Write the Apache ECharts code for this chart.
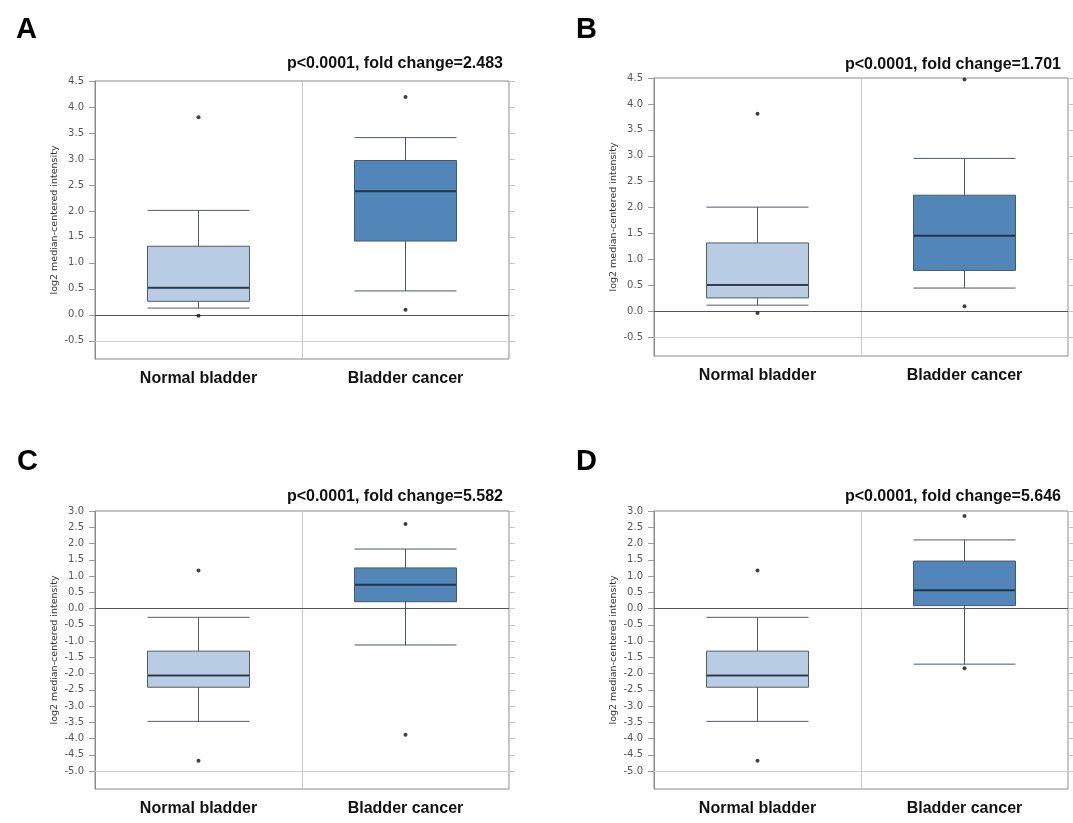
<!DOCTYPE html>
<html>
<head>
<meta charset="utf-8">
<script src="https://cdn.jsdelivr.net/npm/echarts@6/dist/echarts.min.js"></script>
<style>html,body{margin:0;padding:0;background:#fff;}#c{width:1073px;height:823px;}</style>
</head>
<body>
<div id="c"></div>
<script>
// ---- data ----
const categories = ['Normal bladder', 'Bladder cancer'];
const panelLetters = ['A', 'B', 'C', 'D'];
const panelStats = [
  'p<0.0001, fold change=2.483',
  'p<0.0001, fold change=1.701',
  'p<0.0001, fold change=5.582',
  'p<0.0001, fold change=5.646'
];
const yAxisName = 'log2 median-centered intensity';
const yTicksTop = [-0.5, 0, 0.5, 1.0, 1.5, 2.0, 2.5, 3.0, 3.5, 4.0, 4.5];
const yTicksBottom = [-5.0, -4.5, -4.0, -3.5, -3.0, -2.5, -2.0, -1.5, -1.0, -0.5, 0, 0.5, 1.0, 1.5, 2.0, 2.5, 3.0];

// box data: [lower whisker, Q1, median, Q3, upper whisker] for [Normal, Cancer]
const boxA = [[0.13, 0.26, 0.52, 1.32, 2.01], [0.46, 1.42, 2.38, 2.97, 3.41]];
const boxB = [[0.12, 0.26, 0.51, 1.32, 2.01], [0.45, 0.79, 1.46, 2.24, 2.95]];
const boxC = [[-3.47, -2.42, -2.06, -1.31, -0.27], [-1.12, 0.21, 0.73, 1.25, 1.83]];
const boxD = [[-3.47, -2.42, -2.06, -1.31, -0.27], [-1.71, 0.09, 0.56, 1.46, 2.11]];
// outliers: [category index, value]
const outA = [[0, 3.80], [0, -0.02], [1, 4.19], [1, 0.10]];
const outB = [[0, 3.81], [0, -0.03], [1, 4.47], [1, 0.10]];
const outC = [[0, 1.17], [0, -4.68], [1, 2.60], [1, -3.88]];
const outD = [[0, 1.17], [0, -4.68], [1, 2.85], [1, -1.84]];

// ---- layout ----
const panels = [
  {box: boxA, out: outA, ticks: yTicksTop, min: -0.85, max: 4.5, low: -0.5, grid: {left: 95, top: 81, width: 414, height: 278}, letter: {left: 11, top: 10}, stat: {right: 565, top: 51}},
  {box: boxB, out: outB, ticks: yTicksTop, min: -0.86, max: 4.5, low: -0.5, grid: {left: 654, top: 78, width: 414, height: 278}, letter: {left: 571, top: 10}, stat: {right: 7, top: 52}},
  {box: boxC, out: outC, ticks: yTicksBottom, min: -5.55, max: 3.0, low: -5.0, grid: {left: 95, top: 511, width: 414, height: 278}, letter: {left: 12, top: 442}, stat: {right: 565, top: 484}},
  {box: boxD, out: outD, ticks: yTicksBottom, min: -5.55, max: 3.0, low: -5.0, grid: {left: 654, top: 511, width: 414, height: 278}, letter: {left: 571, top: 442}, stat: {right: 7, top: 484}}
];

const boxFill = ['#b8cce4', '#5286b9'];
const boxBorder = ['#555b63', '#4a5866'];

const titles = [], grids = [], xAxes = [], yAxes = [], series = [];
panels.forEach((p, i) => {
  titles.push({text: panelLetters[i], left: p.letter.left, top: p.letter.top,
    textStyle: {fontFamily: 'Liberation Sans', fontWeight: 'bold', fontSize: 29, color: '#000'}});
  titles.push({text: panelStats[i], right: p.stat.right, top: p.stat.top,
    textStyle: {fontFamily: 'Liberation Sans', fontWeight: 'bold', fontSize: 16, color: '#111'}});
  grids.push(Object.assign({show: true, borderColor: '#8a8a8a', borderWidth: 1, backgroundColor: '#fff'}, p.grid));
  xAxes.push({
    type: 'category', gridIndex: i, data: categories, boundaryGap: true,
    axisLine: {show: true, lineStyle: {color: '#8a8a8a'}},
    axisTick: {show: false},
    splitLine: {show: true, lineStyle: {color: '#c8c8c8', width: 1}},
    axisLabel: {margin: 12, fontFamily: 'Liberation Sans', fontWeight: 'bold', fontSize: 16, color: '#111'}
  });
  yAxes.push({
    type: 'value', gridIndex: i, position: 'left', min: p.min, max: p.max,
    name: yAxisName, nameLocation: 'middle', nameGap: 35,
    nameTextStyle: {fontFamily: 'DejaVu Sans', fontSize: 9.5, color: '#333'},
    axisLine: {show: true, lineStyle: {color: '#8a8a8a'}},
    axisTick: {show: true, length: 6, customValues: p.ticks, lineStyle: {color: '#9a9a9a'}},
    axisLabel: {customValues: p.ticks, margin: 11, fontFamily: 'DejaVu Sans', fontSize: 10, color: '#555',
      formatter: v => v.toFixed(1)},
    splitLine: {show: false}
  });
  yAxes.push({
    type: 'value', gridIndex: i, position: 'right', min: p.min, max: p.max,
    axisLine: {show: false},
    axisTick: {show: true, length: 6, customValues: p.ticks, lineStyle: {color: '#c4c4c4'}},
    axisLabel: {show: false},
    splitLine: {show: false}
  });
  series.push({
    type: 'boxplot', xAxisIndex: i, yAxisIndex: 2 * i,
    boxWidth: [102, 102],
    data: p.box.map((b, k) => ({value: b, itemStyle: {color: boxFill[k], borderColor: boxBorder[k], borderWidth: 1}})),
    markLine: {
      silent: true, symbol: 'none', label: {show: false},
      data: [
        {yAxis: p.low, lineStyle: {color: '#cfcfcf', width: 1, type: 'solid'}},
        {yAxis: 0, lineStyle: {color: '#555', width: 1, type: 'solid'}}
      ]
    },
    z: 2
  });
  series.push({
    type: 'scatter', xAxisIndex: i, yAxisIndex: 2 * i,
    data: p.box.map((b, k) => [k, b[2]]),
    symbol: 'rect', symbolSize: [101, 2],
    itemStyle: {color: '#1b2836'}, silent: true, z: 4
  });
  series.push({
    type: 'scatter', xAxisIndex: i, yAxisIndex: 2 * i,
    data: p.out,
    symbol: 'circle', symbolSize: 4,
    itemStyle: {color: '#111'}, silent: true, z: 5
  });
});

const chart = echarts.init(document.getElementById('c'), null, {renderer: 'canvas'});
chart.setOption({
  backgroundColor: '#fff',
  animation: false,
  title: titles,
  grid: grids,
  xAxis: xAxes,
  yAxis: yAxes,
  series: series
});
</script>
</body>
</html>
